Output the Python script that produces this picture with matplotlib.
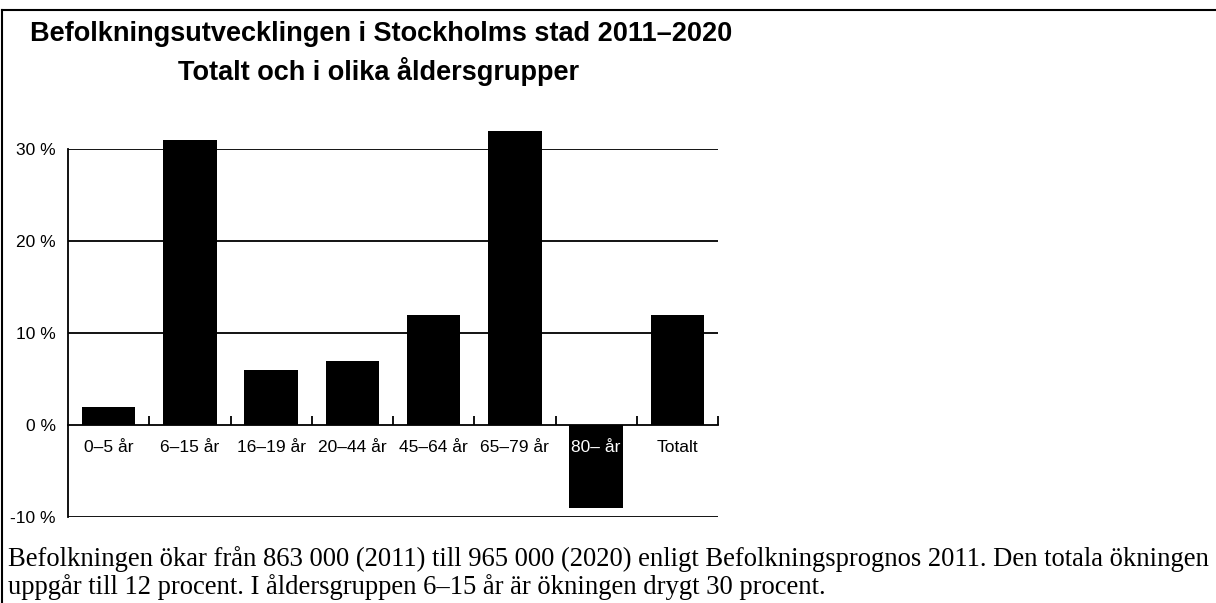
import matplotlib
matplotlib.use("Agg")
import matplotlib.pyplot as plt
from matplotlib.lines import Line2D
from matplotlib.ticker import FixedLocator

categories = ["0–5 år", "6–15 år", "16–19 år", "20–44 år", "45–64 år", "65–79 år", "80– år", "Totalt"]
values = [2, 31, 6, 7, 12, 32, -9, 12]
yticks = [-10, 0, 10, 20, 30]
ytick_labels = ["-10 %", "0 %", "10 %", "20 %", "30 %"]

title1 = "Befolkningsutvecklingen i Stockholms stad 2011–2020"
title2 = "Totalt och i olika åldersgrupper"
caption1 = "Befolkningen ökar från 863 000 (2011) till 965 000 (2020) enligt Befolkningsprognos 2011. Den totala ökningen"
caption2 = "uppgår till 12 procent. I åldersgruppen 6–15 år är ökningen drygt 30 procent."

W, H = 1216, 603
fig = plt.figure(figsize=(W / 100, H / 100), dpi=100)
fig.patch.set_facecolor("white")

ax = fig.add_axes([68 / W, 1 - 517 / H, 650 / W, 368 / H])
ax.set_axisbelow(False)
x = list(range(len(categories)))
ax.bar(x, values, width=0.656, color="black", zorder=2, clip_on=False)
ax.set_xlim(-0.5, len(categories) - 0.5)
ax.set_ylim(-10, 30)

for yv in [-10, 10, 20, 30]:
    ax.axhline(yv, color="black", lw=1.3, zorder=1)

for s in ["top", "right"]:
    ax.spines[s].set_visible(False)
ax.spines["left"].set_linewidth(1.3)
ax.spines["bottom"].set_position(("data", 0))
ax.spines["bottom"].set_linewidth(1.3)
ax.spines["bottom"].set_zorder(3)

ax.set_yticks(yticks)
ax.set_yticklabels(ytick_labels)
ax.tick_params(axis="y", length=0, pad=9, labelsize=12.5)
for lab in ax.get_yticklabels():
    lab.set_fontfamily("Liberation Sans")

ax.set_xticks(x)
ax.set_xticklabels(categories)
ax.xaxis.set_minor_locator(FixedLocator([i + 0.5 for i in range(len(categories))]))
ax.tick_params(axis="x", which="major", length=0, pad=11, labelsize=12.5)
ax.tick_params(axis="x", which="minor", direction="in", length=6.5, width=1.3)
for lab in ax.get_xticklabels():
    lab.set_fontfamily("Liberation Sans")
    if lab.get_text() == "80– år":
        lab.set_color("white")
        lab.set_zorder(5)

fig.text(381 / W, 1 - 41 / H, title1, ha="center", va="baseline",
         fontsize=19.5, fontweight="bold", family="Liberation Sans")
fig.text(379 / W, 1 - 80 / H, title2, ha="center", va="baseline",
         fontsize=19.5, fontweight="bold", family="Liberation Sans")

fig.text(8 / W, 1 - 566 / H, caption1, ha="left", va="baseline",
         fontsize=19.15, family="Liberation Serif")
fig.text(8 / W, 1 - 594 / H, caption2, ha="left", va="baseline",
         fontsize=19.15, family="Liberation Serif")

fig.add_artist(Line2D([2 / W, 2 / W], [0, 1 - 10 / H], transform=fig.transFigure, color="black", lw=1.5))
fig.add_artist(Line2D([2 / W, 1], [1 - 10 / H, 1 - 10 / H], transform=fig.transFigure, color="black", lw=1.5))

fig.savefig("out.png", dpi=100, facecolor="white")
